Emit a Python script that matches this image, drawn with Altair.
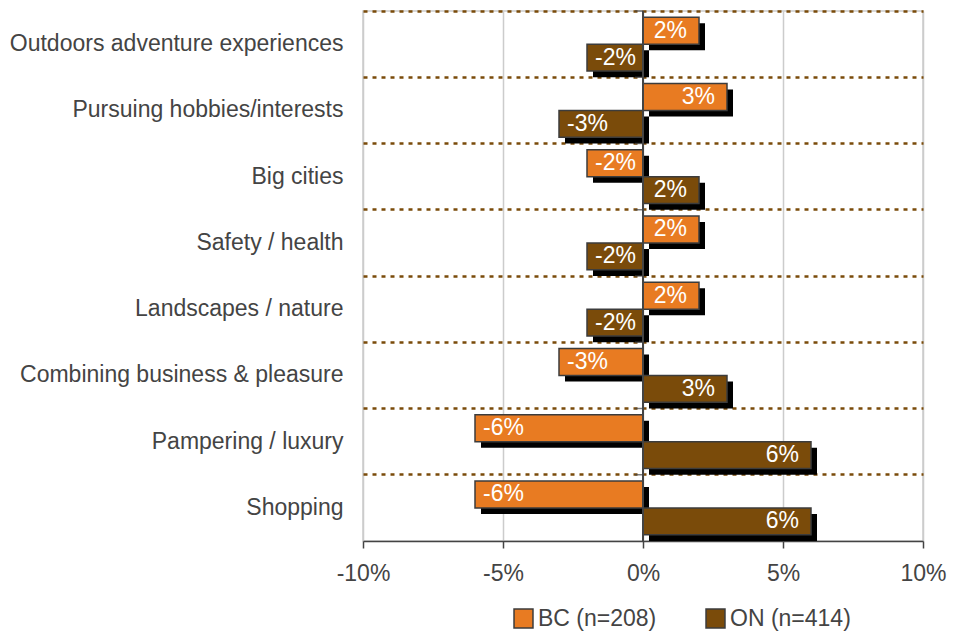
import altair as alt
import pandas as pd

categories = [
    "Outdoors adventure experiences",
    "Pursuing hobbies/interests",
    "Big cities",
    "Safety / health",
    "Landscapes / nature",
    "Combining business & pleasure",
    "Pampering / luxury",
    "Shopping",
]
bc_values = [2, 3, -2, 2, 2, -3, -6, -6]
on_values = [-2, -3, 2, -2, -2, 3, 6, 6]
series = ["BC (n=208)", "ON (n=414)"]
colors = ["#E87B22", "#7A4B0A"]
x_ticks = [-10, -5, 0, 5, 10]

rows = []
for c, b, o in zip(categories, bc_values, on_values):
    rows.append({"cat": c, "series": series[0], "value": b})
    rows.append({"cat": c, "series": series[1], "value": o})
df = pd.DataFrame(rows)
cat_df = pd.DataFrame({"cat": categories})

FONT = "Liberation Sans"
TXT = "#444444"
W, H = 560, 530


def y_enc(**kw):
    return alt.Y(
        "cat:N",
        sort=categories,
        scale=alt.Scale(paddingInner=0, paddingOuter=0),
        axis=alt.Axis(
            title=None, ticks=False, domain=False, labelPadding=20,
            labelFontSize=23, labelColor=TXT, labelFont=FONT, labelLimit=500,
            grid=True, gridColor="#7A4B0A", gridDash=[4, 5], gridWidth=2.5,
            bandPosition=0,
        ),
        **kw,
    )


x_enc = alt.X(
    "value:Q",
    scale=alt.Scale(domain=[-10, 10], nice=False),
    axis=alt.Axis(
        title=None, values=x_ticks, labelExpr="datum.value + '%'",
        labelFontSize=23, labelColor=TXT, labelFont=FONT, labelPadding=14,
        tickColor=TXT, tickSize=7, tickWidth=1.5, domainColor=TXT, domainWidth=1.5,
        grid=True, gridColor="#cccccc", gridWidth=1.5, labelFlush=False,
    ),
)


def yoff(align=0.5):
    return alt.YOffset(
        "series:N", sort=series,
        scale=alt.Scale(type="band", paddingInner=0, paddingOuter=0.227, align=align),
    )


base = alt.Chart(df)

shadow = base.mark_bar(color="black", xOffset=6, x2Offset=0.01).encode(
    x=x_enc, y=y_enc(), yOffset=yoff(1.0)
)

bars = base.mark_bar(stroke="#3c3c3c", strokeWidth=1.5).encode(
    x=x_enc,
    y=y_enc(),
    yOffset=yoff(),
    color=alt.Color(
        "series:N", sort=series,
        scale=alt.Scale(domain=series, range=colors),
        legend=alt.Legend(
            title=None, orient="none", direction="horizontal",
            legendX=149, legendY=596, symbolType="square", symbolSize=360,
            symbolStrokeColor="#3c3c3c", symbolStrokeWidth=1.5,
            symbolOpacity=1, labelFontSize=23, labelFont=FONT, labelColor=TXT,
            labelOffset=3, columnPadding=46,
        ),
    ),
)

pos_text = base.transform_filter("datum.value > 0").transform_calculate(
    label="datum.value + '%'"
).mark_text(align="right", dx=-12, baseline="middle", color="white",
            fontSize=23, font=FONT).encode(
    x=x_enc, y=y_enc(), yOffset=yoff(), text="label:N"
)

neg_text = base.transform_filter("datum.value < 0").transform_calculate(
    label="datum.value + '%'"
).mark_text(align="left", dx=8, baseline="middle", color="white",
            fontSize=23, font=FONT).encode(
    x=x_enc, y=y_enc(), yOffset=yoff(), text="label:N"
)

zero_rule = alt.Chart(cat_df).mark_rule(color=TXT, strokeWidth=1.5).encode(
    x=alt.datum(0)
)

zero_ticks = alt.Chart(cat_df).mark_tick(
    orient="horizontal", size=8, xOffset=-4, color=TXT, thickness=1.5
).encode(x=alt.datum(0), y=y_enc(bandPosition=0))

chart = (
    alt.layer(shadow, bars, pos_text, neg_text, zero_rule, zero_ticks)
    .resolve_scale(yOffset="independent")
    .properties(
        width=W, height=H,
        autosize=alt.AutoSizeParams(type="none"),
        padding={"left": 355, "top": 3, "right": 24, "bottom": 90},
    )
    .configure_view(stroke="#cccccc", strokeWidth=1.5)
)

chart.save("out.html", embed_options={"renderer": "svg", "actions": False})
